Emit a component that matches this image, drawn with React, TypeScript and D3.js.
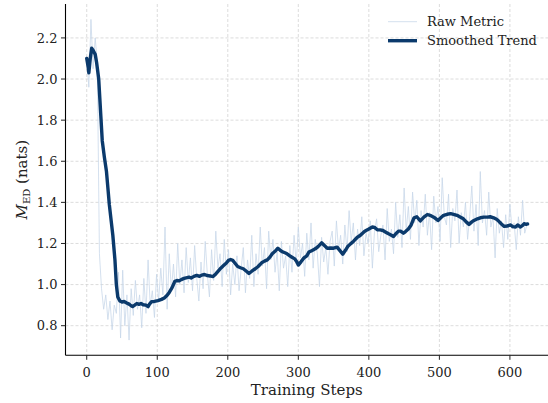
import React from 'react';
import * as d3 from 'd3';

// raw metric, one reading every 3 steps (0, 3, 6, ... 624)
const rawStepSize = 3;
const rawValues = [
  2.10, 1.96, 2.29, 2.05, 2.20, 2.08, 1.15, 0.98, 0.88, 0.95,
  0.83, 0.92, 0.78, 0.90, 0.86, 1.06, 0.74, 1.07, 0.80, 0.95,
  0.73, 0.98, 0.85, 1.02, 0.88, 0.95, 0.79, 1.03, 0.86, 1.12,
  0.90, 0.97, 0.84, 1.05, 0.92, 1.08, 0.95, 1.28, 0.88, 1.15,
  0.97, 1.10, 0.94, 1.20, 1.00, 1.12, 0.96, 1.18, 1.01, 1.13,
  0.97, 1.19, 1.03, 0.92, 1.11, 0.98, 1.21, 1.05, 0.94, 1.17,
  1.02, 1.26, 1.08, 1.15, 0.99, 1.22, 1.05, 1.17, 0.95, 1.10,
  1.00, 1.14, 0.97, 1.08, 1.18, 0.96, 1.12, 1.03, 1.24, 0.99,
  1.15, 1.05, 1.28, 1.09, 1.18, 0.98, 1.26, 1.12, 1.22, 1.06,
  1.16, 0.97, 1.21, 1.08, 1.14, 0.99, 1.19, 1.06, 1.24, 1.10,
  1.28, 1.13, 1.20, 1.04, 1.25, 1.12, 1.30, 1.08, 1.22, 1.15,
  0.99, 1.23, 1.11, 1.18, 1.05, 1.21, 1.26, 1.09, 1.31, 1.17,
  1.24, 1.10, 1.29, 1.16, 1.36, 1.21, 1.30, 1.12, 1.27, 1.19,
  1.33, 1.14, 1.25, 1.20, 1.31, 1.08, 1.26, 1.32, 1.16, 1.24,
  1.29, 1.12, 1.37, 1.21, 1.27, 1.15, 1.40, 1.23, 1.34, 1.18,
  1.47, 1.26, 1.38, 1.22, 1.45, 1.30, 1.41, 1.19, 1.36, 1.28,
  1.44, 1.24, 1.35, 1.17, 1.43, 1.30, 1.38, 1.21, 1.52, 1.33,
  1.29, 1.44, 1.18, 1.37, 1.31, 1.46, 1.20, 1.35, 1.28, 1.40,
  1.22, 1.33, 1.48, 1.26, 1.39, 1.19, 1.55, 1.30, 1.36, 1.24,
  1.45, 1.28, 1.33, 1.13, 1.37, 1.25, 1.31, 1.18, 1.34, 1.22,
  1.39, 1.27, 1.30, 1.17, 1.33, 1.24, 1.41, 1.25, 1.29,
];

// smoothed trend as [step, value]
const smoothed: [number, number][] = [
  [0, 2.10], [2, 2.06], [3, 2.03], [5, 2.10], [7, 2.15], [9, 2.14], [12, 2.12],
  [14, 2.08], [17, 2.00], [20, 1.82], [22, 1.70], [25, 1.62], [28, 1.55], [30, 1.47],
  [32, 1.39], [35, 1.30], [37, 1.24], [40, 1.12], [42, 1.00], [44, 0.94], [47, 0.92],
  [50, 0.915], [53, 0.918], [56, 0.912], [60, 0.905], [63, 0.897], [65, 0.893],
  [68, 0.900], [71, 0.908], [74, 0.904], [77, 0.908], [80, 0.902], [84, 0.900],
  [87, 0.893], [89, 0.905], [92, 0.917], [96, 0.918], [101, 0.922], [106, 0.928],
  [110, 0.935], [114, 0.948], [117, 0.962], [121, 0.985], [125, 1.016], [128, 1.020],
  [131, 1.018], [134, 1.024], [138, 1.030], [141, 1.033], [145, 1.036], [148, 1.032],
  [152, 1.040], [156, 1.045], [160, 1.040], [163, 1.046], [167, 1.049], [171, 1.044],
  [175, 1.042], [179, 1.039], [183, 1.052], [187, 1.068], [190, 1.080], [194, 1.093],
  [198, 1.105], [201, 1.118], [204, 1.122], [207, 1.118], [210, 1.105], [214, 1.088],
  [218, 1.082], [222, 1.077], [226, 1.066], [230, 1.054], [234, 1.065], [239, 1.077],
  [243, 1.088], [248, 1.106], [252, 1.114], [256, 1.120], [260, 1.135], [263, 1.150],
  [267, 1.162], [271, 1.177], [274, 1.168], [277, 1.160], [281, 1.155], [284, 1.150],
  [288, 1.140], [291, 1.133], [295, 1.125], [298, 1.110], [300, 1.095], [304, 1.112],
  [308, 1.130], [312, 1.140], [315, 1.158], [319, 1.165], [324, 1.174], [328, 1.185],
  [333, 1.203], [337, 1.190], [341, 1.177], [346, 1.178], [350, 1.177], [355, 1.182],
  [359, 1.165], [363, 1.148], [367, 1.168], [370, 1.185], [374, 1.198], [378, 1.210],
  [383, 1.228], [388, 1.240], [393, 1.256], [396, 1.263], [400, 1.270], [405, 1.280],
  [408, 1.278], [412, 1.267], [416, 1.266], [420, 1.263], [424, 1.255], [428, 1.247],
  [432, 1.240], [435, 1.234], [439, 1.250], [442, 1.260], [445, 1.260], [449, 1.250],
  [452, 1.258], [456, 1.270], [460, 1.290], [464, 1.325], [468, 1.330], [473, 1.310],
  [478, 1.328], [483, 1.341], [488, 1.335], [492, 1.328], [498, 1.312], [502, 1.325],
  [506, 1.337], [511, 1.342], [516, 1.345], [520, 1.342], [525, 1.337], [530, 1.328],
  [534, 1.320], [538, 1.305], [542, 1.293], [546, 1.305], [549, 1.312], [554, 1.320],
  [558, 1.325], [563, 1.328], [568, 1.328], [572, 1.330], [577, 1.325], [581, 1.318],
  [584, 1.309], [588, 1.295], [592, 1.283], [596, 1.285], [601, 1.290], [604, 1.282],
  [608, 1.280], [611, 1.290], [615, 1.280], [618, 1.288], [620, 1.296], [623, 1.293],
  [625, 1.295],
];

const xTicks = [0, 100, 200, 300, 400, 500, 600];
const yTicks = [0.8, 1.0, 1.2, 1.4, 1.6, 1.8, 2.0, 2.2];
const legendLabels = ['Raw Metric', 'Smoothed Trend'];

const W = 548;
const H = 403;
const FONT = '"DejaVu Serif", serif';
const RAW_COLOR = '#c5d5e8';
const TREND_COLOR = '#0b3a6c';

export default function App() {
  const left = 65.5, right = 548, top = 4, bottom = 355.3;

  const x = d3.scaleLinear().domain([-30.1, 654]).range([left, right]);
  const y = d3.scaleLinear().domain([0.656, 2.365]).range([bottom, top]);

  const rawPts: [number, number][] = rawValues.map((v, i) => [i * rawStepSize, v]);

  const line = d3.line<[number, number]>()
    .x((d) => x(d[0]))
    .y((d) => y(d[1]));

  return (
    <svg width={W} height={H} style={{ position: 'absolute', left: 0, top: 0, display: 'block' }}
      fontFamily={FONT}>
      <rect width={W} height={H} fill="#fff" />
      {/* grid */}
      <g stroke="#d3d3d3" strokeWidth={0.8} strokeDasharray="3,2">
        {xTicks.map((t) => (
          <line key={'gx' + t} x1={x(t)} x2={x(t)} y1={top} y2={bottom} />
        ))}
        {yTicks.map((t) => (
          <line key={'gy' + t} x1={left} x2={right} y1={y(t)} y2={y(t)} />
        ))}
      </g>

      <path d={line(rawPts) ?? ''} fill="none" stroke={RAW_COLOR} strokeOpacity={0.75}
        strokeWidth={1} strokeLinejoin="round" />
      <path d={line(smoothed) ?? ''} fill="none" stroke={TREND_COLOR} strokeWidth={3.4}
        strokeLinejoin="round" strokeLinecap="round" />

      {/* axes */}
      <line x1={left} x2={left} y1={top} y2={bottom} stroke="#000" strokeWidth={1.1} />
      <line x1={left} x2={right} y1={bottom} y2={bottom} stroke="#000" strokeWidth={1.1} />
      {xTicks.map((t) => (
        <g key={'xt' + t}>
          <line x1={x(t)} x2={x(t)} y1={bottom} y2={bottom + 4.5} stroke="#222" />
          <text x={x(t)} y={bottom + 21.5} textAnchor="middle" fontSize={13} fill="#222">{t}</text>
        </g>
      ))}
      {yTicks.map((t) => (
        <g key={'yt' + t}>
          <line x1={left - 4.5} x2={left} y1={y(t)} y2={y(t)} stroke="#222" />
          <text x={left - 8} y={y(t) + 4.7} textAnchor="end" fontSize={13} fill="#222">{t.toFixed(1)}</text>
        </g>
      ))}

      <text x={(left + right) / 2} y={395} textAnchor="middle" fontSize={15} fill="#222">Training Steps</text>
      <text transform={`translate(27, ${(top + bottom) / 2}) rotate(-90)`} textAnchor="middle"
        fontSize={15} fill="#222">
        <tspan fontStyle="italic">M</tspan>
        <tspan fontSize={10} dy={3}>ED</tspan>
        <tspan dy={-3}> (nats)</tspan>
      </text>

      {/* legend */}
      <g>
        {legendLabels.map((lab, i) => (
          <g key={lab} transform={`translate(388, ${21.7 + i * 19})`}>
            <line x1={0} x2={29} y1={0} y2={0}
              stroke={i === 0 ? RAW_COLOR : TREND_COLOR}
              strokeOpacity={i === 0 ? 0.75 : 1}
              strokeWidth={i === 0 ? 1 : 3.4} />
            <text x={39} y={4.6} fontSize={13} fill="#222">{lab}</text>
          </g>
        ))}
      </g>
    </svg>
  );
}
